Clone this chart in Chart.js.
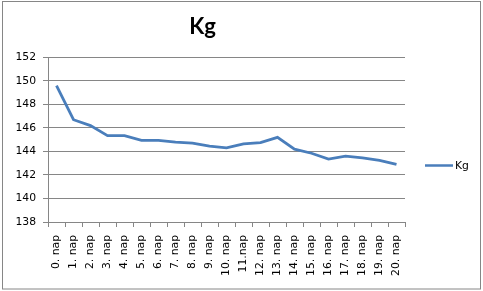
<!DOCTYPE html>
<html>
<head>
<meta charset="utf-8">
<script src="https://cdn.jsdelivr.net/npm/chart.js@4"></script>
<style>
  html, body { margin: 0; padding: 0; background: #fff; }
</style>
</head>
<body>
<canvas id="kgChart" width="483" height="291"></canvas>
<script>
// Data
const days = ['0. nap', '1. nap', '2. nap', '3. nap', '4. nap', '5. nap', '6. nap', '7. nap', '8. nap', '9. nap',
    '10. nap', '11.nap', '12. nap', '13. nap', '14. nap', '15. nap', '16. nap', '17. nap', '18. nap', '19. nap', '20. nap'];
const kg = [149.6, 146.7, 146.2, 145.35, 145.35, 144.95, 144.95, 144.8, 144.7, 144.45,
    144.3, 144.65, 144.75, 145.2, 144.2, 143.85, 143.35, 143.6, 143.45, 143.25, 142.9];
const yTicks = [138, 140, 142, 144, 146, 148, 150, 152];

const gridColor = '#868686';
const lineColor = '#4A7EBB';
const labelFont = { family: '"DejaVu Sans", Tahoma, sans-serif', size: 10.8 };

// Excel-like frame around the whole chart and a legend on the right
const frameAndLegend = {
    id: 'frameAndLegend',
    beforeDraw(chart) {
        const c = chart.ctx;
        c.save();
        c.fillStyle = '#fff';
        c.fillRect(0, 0, chart.width, chart.height);
        c.strokeStyle = gridColor;
        c.lineWidth = 1;
        c.strokeRect(2.5, 1.5, 478, 287.5);
        c.restore();
    },
    afterDraw(chart) {
        const c = chart.ctx;
        const ds = chart.data.datasets[0];
        c.save();
        c.strokeStyle = ds.borderColor;
        c.lineWidth = 2.5;
        c.beginPath();
        c.moveTo(425, 165.5);
        c.lineTo(453, 165.5);
        c.stroke();
        c.fillStyle = '#000';
        c.font = '10.8px "DejaVu Sans", Tahoma, sans-serif';
        c.textBaseline = 'middle';
        c.fillText(ds.label, 455, 166);
        c.restore();
    }
};

const ctx = document.getElementById('kgChart').getContext('2d');
const kgChart = new Chart(ctx, {
    type: 'line',
    data: {
        labels: days,
        datasets: [{
            label: 'Kg',
            data: kg,
            borderColor: lineColor,
            backgroundColor: lineColor,
            borderWidth: 2.8,
            pointRadius: 0,
            tension: 0
        }]
    },
    options: {
        responsive: false,
        animation: false,
        layout: { padding: { left: 0, right: 78, top: 0, bottom: 0 } },
        scales: {
            x: {
                offset: true,
                grid: {
                    offset: true,
                    drawOnChartArea: false,
                    drawTicks: true,
                    tickLength: 5,
                    color: gridColor
                },
                border: { color: gridColor },
                ticks: {
                    color: '#000',
                    font: labelFont,
                    minRotation: 90,
                    maxRotation: 90,
                    autoSkip: false,
                    padding: 8
                },
                afterFit(scale) { scale.height = 69; }
            },
            y: {
                min: 138,
                max: 152,
                afterBuildTicks(scale) { scale.ticks = yTicks.map(v => ({ value: v })); },
                grid: { color: gridColor, tickLength: 5 },
                border: { color: gridColor },
                ticks: {
                    color: '#000',
                    font: labelFont,
                    padding: 7
                },
                afterFit(scale) { scale.width = 48; }
            }
        },
        plugins: {
            legend: { display: false },
            tooltip: { enabled: false },
            title: {
                display: true,
                text: 'Kg',
                color: '#000',
                font: { family: 'Lato, "Liberation Sans", sans-serif', size: 22, weight: 'bold' },
                padding: { top: 14, bottom: 17 }
            }
        }
    },
    plugins: [frameAndLegend]
});
</script>
</body>
</html>
